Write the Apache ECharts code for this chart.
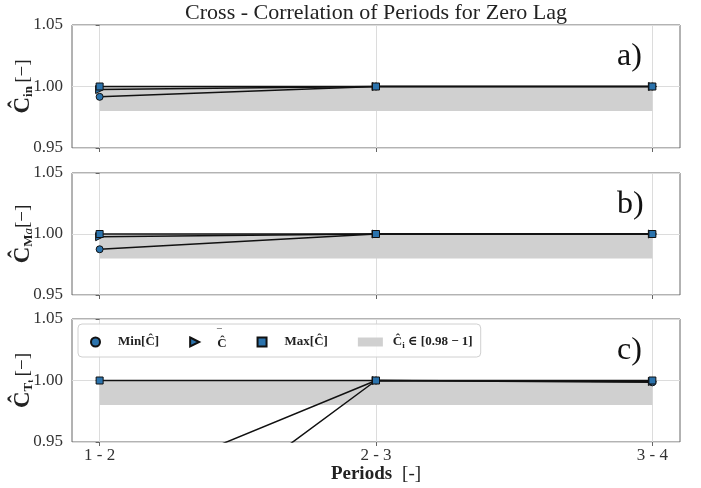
<!DOCTYPE html>
<html>
<head>
<meta charset="utf-8">
<script src="https://cdn.jsdelivr.net/npm/echarts@6/dist/echarts.min.js"></script>
<style>html,body{margin:0;padding:0;background:#fff}#c{width:701px;height:488px}</style>
</head>
<body>
<div id="c"></div>
<script>
// ---- data ----
var categories = ['1 - 2', '2 - 3', '3 - 4'];
var yTicks = [0.95, 1.00, 1.05];
var bandRange = [0.98, 1.00];
var aMin  = [0.9916, 1.0000, 1.0000];
var aMean = [0.9975, 1.0000, 1.0000];
var aMax  = [1.0000, 1.0000, 1.0000];
var bMin  = [0.9875, 1.0000, 1.0000];
var bMean = [0.9978, 1.0000, 1.0000];
var bMax  = [1.0000, 1.0000, 1.0000];
var cMin  = [0.8340, 1.0000, 0.9985];
var cMean = [0.9075, 1.0000, 0.9992];
var cMax  = [1.0000, 1.0000, 1.0000];
var panelLabels = ['a)', 'b)', 'c)'];
var titleText = 'Cross - Correlation of Periods for Zero Lag';

var SERIF = '"Liberation Serif", "DejaVu Serif", serif';
var NAME_MIN = 'Min[Ĉ]', NAME_MEAN = 'mean', NAME_MAX = 'Max[Ĉ]', NAME_BAND = 'band';
var panels = [
  {min: aMin, mean: aMean, max: aMax},
  {min: bMin, mean: bMean, max: bMax},
  {min: cMin, mean: cMean, max: cMax}
];
var gridTops = [25, 173, 319];
var gridH = [123, 122, 123];
var blue = '#2b73ad';
var triPath = 'path://M0,0L10,5L0,10Z';
var sqPath = 'path://M0,0L10,0L10,10L0,10Z';

function pts(arr){ return arr.map(function(v,i){ return [i, v]; }); }

var grids = [], xAxes = [], yAxes = [], series = [], graphics = [];
panels.forEach(function(p, k){
  grids.push({left: 72, right: 21, top: gridTops[k], height: gridH[k], show: true,
    containLabel: false, outerBoundsMode: 'none',
    borderColor: '#666', borderWidth: 1, backgroundColor: 'transparent'});
  xAxes.push({type: 'value', gridIndex: k, min: -0.1, max: 2.1,
    axisLine: {show: false},
    axisTick: {show: true, length: 4, lineStyle: {color: '#666'}, customValues: [0,1,2]},
    axisLabel: {show: k === 2, customValues: [0,1,2], fontFamily: SERIF, fontSize: 17, color: '#333', margin: 5,
      formatter: function(v){ return categories[Math.round(v)] || ''; }},
    splitLine: {show: true, lineStyle: {color: '#dcdcdc', width: 1}},
    name: k === 2 ? '{b|Periods}   {n|[-]}' : '', nameLocation: 'middle', nameGap: 22,
    nameTextStyle: {rich: {b: {fontFamily: SERIF, fontWeight: 'bold', fontSize: 19, color: '#222'},
                           n: {fontFamily: SERIF, fontSize: 19, color: '#222'}}}
  });
  var subRich = (k === 1) ? '{s|M}{si|a}' : (k === 2 ? '{s|T}{ss|t}' : '{s|in}');
  yAxes.push({type: 'value', gridIndex: k, min: yTicks[0], max: yTicks[2], interval: 0.05,
    axisLine: {show: false},
    axisTick: {show: true, length: 4, lineStyle: {color: '#666'}},
    axisLabel: {fontFamily: SERIF, fontSize: 17, color: '#333', margin: 9,
      formatter: function(v){ return v.toFixed(2); }},
    splitLine: {show: true, lineStyle: {color: '#dcdcdc', width: 1}},
    name: '{c|Ĉ}' + subRich + (k === 1 ? '' : ' ') + '{n|[−]}',
    nameLocation: 'middle', nameRotate: 90, nameGap: 37, nameMoveOverlap: false,
    nameTextStyle: {rich: {
      c: {fontFamily: SERIF, fontWeight: 'bold', fontSize: 23, color: '#222', lineHeight: 24, verticalAlign: 'middle'},
      s: {fontFamily: SERIF, fontWeight: 'bold', fontSize: 13, color: '#222', lineHeight: 24, verticalAlign: 'bottom'},
      si: {fontFamily: SERIF, fontStyle: 'italic', fontSize: 13, color: '#222', lineHeight: 24, verticalAlign: 'bottom'},
      ss: {fontFamily: SERIF, fontWeight: 'bold', fontSize: 9, color: '#222', lineHeight: 20, verticalAlign: 'bottom'},
      n: {fontFamily: SERIF, fontSize: 19, color: '#222', lineHeight: 24, verticalAlign: 'middle'}
    }}
  });
  // band
  series.push({type: 'line', name: NAME_BAND, xAxisIndex: k, yAxisIndex: k, data: [], symbol: 'none',
    itemStyle: {color: '#d0d0d0'}, lineStyle: {width: 0},
    markArea: {silent: true, itemStyle: {color: '#d0d0d0'},
      data: [[{coord: [0, bandRange[0]]}, {coord: [2, bandRange[1]]}]]}, z: 1});
  var defs = [[NAME_MIN, p.min, 'circle', 7], [NAME_MEAN, p.mean, triPath, 8], [NAME_MAX, p.max, 'rect', 7]];
  defs.forEach(function(d){
    series.push({type: 'line', name: d[0], xAxisIndex: k, yAxisIndex: k, data: pts(d[1]),
      symbol: d[2], symbolSize: d[3], showAllSymbol: true, clip: true,
      lineStyle: {color: '#111', width: 1.5},
      itemStyle: {color: blue, borderColor: '#111', borderWidth: 1},
      z: 3});
  });
  graphics.push({type: 'text', left: 617, top: gridTops[k] + 16,
    style: {text: panelLabels[k], font: '32px ' + SERIF, fill: '#111'}});
});
graphics.push({type: 'text', x: 376, y: 2,
  style: {text: titleText, font: '22px ' + SERIF, fill: '#222', textAlign: 'center', textVerticalAlign: 'top'}});

var option = {
  animation: false,
  backgroundColor: '#fff',
  grid: grids, xAxis: xAxes, yAxis: yAxes, series: series, graphic: graphics,
  legend: {left: 78, top: 324, orient: 'horizontal', padding: [4, 8, 7, 12], itemGap: 30,
    itemWidth: 25, itemHeight: 9, selectedMode: false,
    backgroundColor: 'rgba(255,255,255,0.85)', borderColor: '#d0d0d0', borderWidth: 1, borderRadius: 4,
    data: [
      {name: NAME_MIN, icon: 'circle'},
      {name: NAME_MEAN, icon: triPath},
      {name: NAME_MAX, icon: sqPath},
      {name: NAME_BAND, icon: 'rect'}
    ],
    formatter: function(n){
      if (n === NAME_BAND) return '{b|Ĉ}{s|i}{m| ∈ [0.98 − 1]}';
      if (n === NAME_MEAN) return '{o|‾}\n{b|Ĉ}';
      return '{b|' + n + '}';
    },
    textStyle: {fontFamily: SERIF, fontWeight: 'bold', fontSize: 13, color: '#222',
      rich: {b: {fontFamily: SERIF, fontWeight: 'bold', fontSize: 13, color: '#222', padding: [0,0,0,5], lineHeight: 15},
             o: {fontFamily: SERIF, fontWeight: 'bold', fontSize: 13, color: '#222', padding: [0,0,0,5], lineHeight: 3},
             m: {fontFamily: SERIF, fontWeight: 'bold', fontSize: 13, color: '#222'},
             s: {fontFamily: SERIF, fontWeight: 'bold', fontSize: 9, color: '#222', verticalAlign: 'bottom', lineHeight: 16}}}
  }
};
var chart = echarts.init(document.getElementById('c'), null, {renderer: 'canvas'});
chart.setOption(option);
</script>
</body>
</html>
